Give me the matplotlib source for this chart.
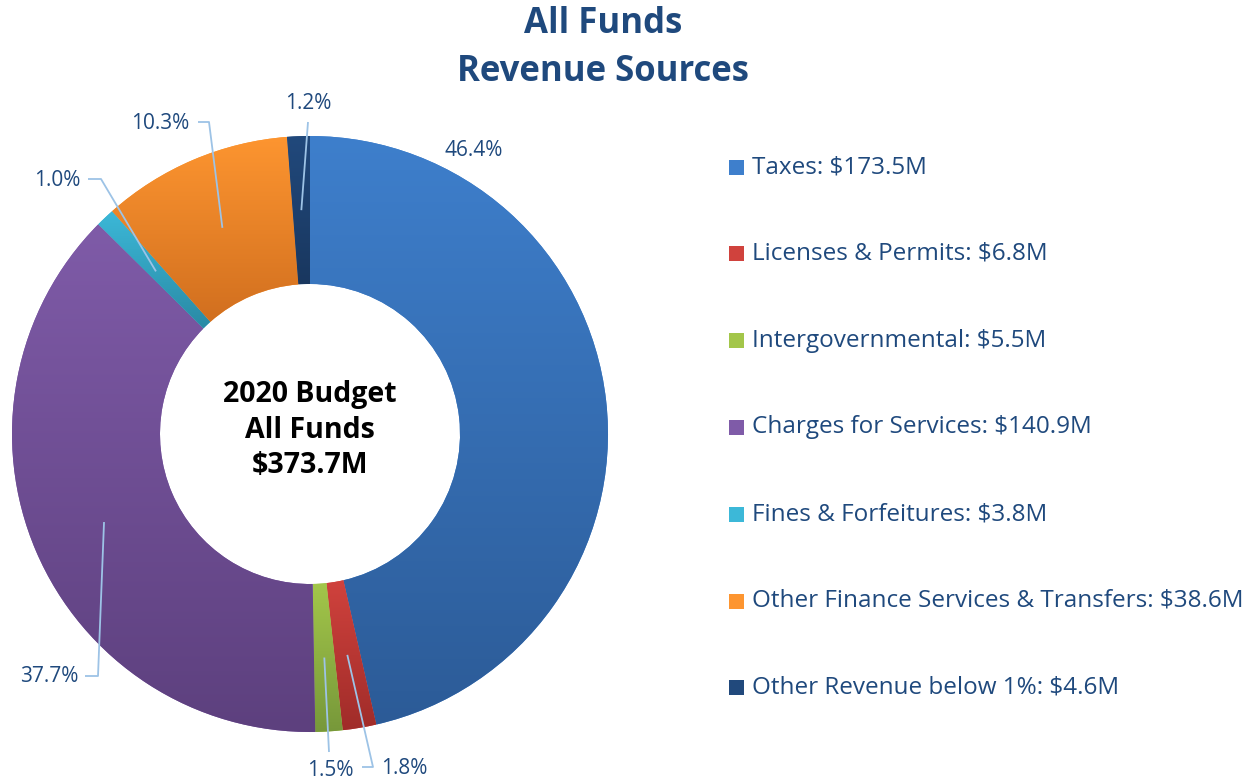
import numpy as np
import matplotlib
matplotlib.use("Agg")
import matplotlib.pyplot as plt
from matplotlib.colors import LinearSegmentedColormap
from matplotlib.patches import Rectangle

plt.rcParams['font.family'] = ['Open Sans', 'DejaVu Sans']

# data
names = ["Taxes", "Licenses & Permits", "Intergovernmental", "Charges for Services",
         "Fines & Forfeitures", "Other Finance Services & Transfers", "Other Revenue below 1%"]
values = [173.5, 6.8, 5.5, 140.9, 3.8, 38.6, 4.6]
top_colors = ["#3E7FCC", "#D0423D", "#A3C64A", "#7F5BA8", "#3CB8D8", "#FD9530", "#21497C"]
bot_colors = ["#2C5B97", "#A02C29", "#77983A", "#5D407E", "#2A8AA5", "#D16F1F", "#19375F"]

W, H = 1259, 784
TXT = "#1F497D"
LEAD = "#9DC3E6"

def py(y):
    # picture rows -> data y (y up)
    return H - y

fig = plt.figure(figsize=(W / 100, H / 100), dpi=100)
ax = fig.add_axes([0, 0, 1, 1])

cx, cy, R, ring = 310, py(434), 298, 148
wedges, _ = ax.pie(values, radius=R, center=(cx, cy), startangle=90, counterclock=False,
                   colors=top_colors, wedgeprops=dict(width=ring, linewidth=0),
                   frame=True)

# vertical gradient in every slice
grad = np.linspace(0, 1, 256).reshape(-1, 1)
for w, c0, c1 in zip(wedges, bot_colors, top_colors):
    bb = w.get_path().get_extents(w.get_patch_transform())
    cm = LinearSegmentedColormap.from_list("g", [c0, c1])
    im = ax.imshow(grad, extent=[bb.x0, bb.x1, bb.y0, bb.y1], origin='lower',
                   cmap=cm, aspect='auto', interpolation='bilinear', zorder=w.get_zorder() + 0.1)
    im.set_clip_path(w)
ax.set_xlim(0, W)
ax.set_ylim(0, H)
ax.set_aspect('equal')
ax.axis('off')

# percent labels
total = sum(values)
pcts = [v / total * 100 for v in values]
label_pos = [(474, 150), (404, 769), (330, 771), (49, 677), (57, 180), (160, 123), (308, 103)]
# leader: knee points from text side (picture px), None = no leader
leaders = [None,
           [(362, 767), (373, 767)],
           [(329, 752)],
           [(85, 676), (98, 676)],
           [(88, 179), (101, 179)],
           [(198, 122), (209, 122)],
           [(308, 122)]]
rmid = R - ring / 2
cum = 0
for i, v in enumerate(values):
    mid = (cum + v / 2) / total
    cum += v
    ang = np.deg2rad(90 - mid * 360)
    ax_, ay_ = cx + rmid * np.cos(ang), cy + rmid * np.sin(ang)
    tx, ty = label_pos[i]
    ax.text(tx, py(ty), f"{pcts[i]:.1f}%", ha='center', va='center', fontsize=15, color=TXT)
    if leaders[i]:
        xs = [p[0] for p in leaders[i]] + [ax_]
        ys = [py(p[1]) for p in leaders[i]] + [ay_]
        ax.plot(xs, ys, color=LEAD, lw=1.3, solid_capstyle='butt')

# center text
ax.text(cx, py(430), f"2020 Budget\nAll Funds\n${total:.1f}M", ha='center', va='center',
        fontsize=20.5, fontweight='bold', color='black', linespacing=1.3)

# title
ax.text(603, py(48), "All Funds\nRevenue Sources", ha='center', va='center',
        fontsize=25, fontweight='bold', color=TXT, linespacing=1.45)

# legend
for i, (n, v) in enumerate(zip(names, values)):
    yy = py(167 + i * 86.8)
    ax.add_patch(Rectangle((729, yy - 7.5), 15, 15, color=top_colors[i], lw=0))
    ax.text(752, yy, f"{n}: ${v}M", ha='left', va='center', fontsize=17.5, color=TXT)

fig.savefig("out.png", dpi=100)
